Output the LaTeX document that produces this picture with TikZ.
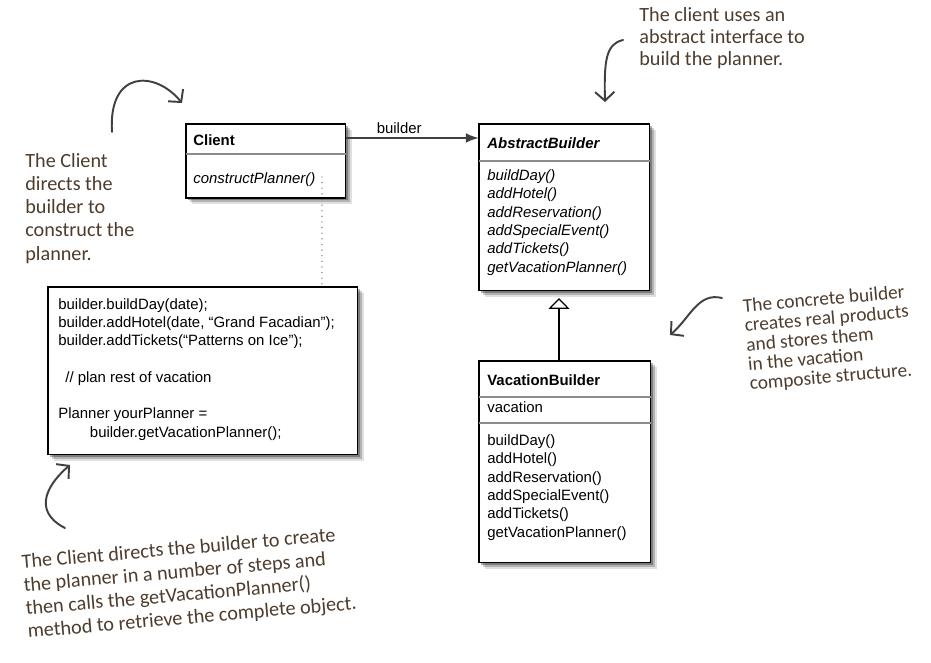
\documentclass[tikz,border=0pt]{standalone}
\usepackage{fontspec}
\setmainfont{Liberation Sans}
\newfontfamily\handfont{Carlito}
\usetikzlibrary{arrows.meta,shadows}
\definecolor{handink}{RGB}{78,60,45}
\definecolor{penline}{RGB}{64,64,64}

\begin{document}
\begin{tikzpicture}[x=0.02cm, y=-0.02cm,
  umlbox/.style={draw=black, line width=0.6pt, fill=white, anchor=north west,
    inner sep=0pt, outer sep=0pt,
    drop shadow={shadow xshift=3.6pt, shadow yshift=-3.6pt, fill=black, opacity=0.12},
    drop shadow={shadow xshift=2.4pt, shadow yshift=-2.4pt, fill=black, opacity=0.2},
    drop shadow={shadow xshift=1.2pt, shadow yshift=-1.2pt, fill=black, opacity=0.3}},
  divider/.style={draw=black!45, line width=0.6pt},
  boxtext/.style={anchor=base west, inner sep=0pt, align=left,
    font=\fontsize{8.5}{10.4}\selectfont #1},
  boxtext/.default={},
  assoc/.style={draw=penline, line width=1.1pt, -{Latex[length=7.5pt,width=5.5pt]}},
  generalize/.style={draw=black, line width=0.7pt, shorten >=4pt,
    -{Triangle[open, length=6.2pt, width=11.9pt, line width=0.7pt]}},
  dotline/.style={draw=black!60, line width=0.8pt, line cap=round, dash pattern=on 0pt off 3.2pt},
  handnote/.style={anchor=base west, inner sep=0pt, align=left, text=handink,
    font=\handfont\fontsize{11.5}{#1}\selectfont},
  pencurve/.style={draw=penline, line width=1.1pt, line cap=round, line join=round,
    -{Straight Barb[length=5pt, width=11pt]}}
]
\path[use as bounding box, fill=white] (0,0) rectangle (931,663);

% Client
\draw (186,124) node (client) [umlbox, minimum width=3.2cm, minimum height=1.48cm] {};
\draw[divider] (186,154) -- (346,154);
\draw (193,145) node (clientname) [boxtext=\bfseries] {Client};
\draw (193,183) node (clientops) [boxtext=\itshape] {constructPlanner()};

% AbstractBuilder (multi-line nodes sit on their last baseline)
\draw (479,124) node (abs) [umlbox, minimum width=3.42cm, minimum height=3.34cm] {};
\draw[divider] (479,161) -- (650,161);
\draw (487,148) node (absname) [boxtext={\bfseries\itshape}] {AbstractBuilder};
\draw (487,272) node (absops) [boxtext=\itshape]
  {buildDay()\\ addHotel()\\ addReservation()\\ addSpecialEvent()\\ addTickets()\\ getVacationPlanner()};

% VacationBuilder
\draw (479,361) node (vb) [umlbox, minimum width=3.44cm, minimum height=4.04cm] {};
\draw[divider] (479,397) -- (651,397);
\draw[divider] (479,423) -- (651,423);
\draw (487,385) node (vbname) [boxtext=\bfseries] {VacationBuilder};
\draw (487,412) node (vbattr) [boxtext] {vacation};
\draw (487,537) node (vbops) [boxtext]
  {buildDay()\\ addHotel()\\ addReservation()\\ addSpecialEvent()\\ addTickets()\\ getVacationPlanner()};

% code of the client
\draw (48,287) node (code) [umlbox, minimum width=6.2cm, minimum height=3.36cm] {};
\draw (58,437) node (codetext) [boxtext]
  {builder.buildDay(date);\\ builder.addHotel(date, “Grand Facadian”);\\
   builder.addTickets(“Patterns on Ice”);\\[10.4pt]
   \hspace*{4pt}// plan rest of vacation\\[10.4pt]
   Planner yourPlanner =\\ \hspace*{18pt}builder.getVacationPlanner();};

% connectors
\draw[assoc] ([yshift=-0.28cm]client.north east) -- ([yshift=-0.28cm]abs.north west)
  node [pos=0.4, above=2pt, inner sep=0pt, font=\fontsize{8.5}{10.4}\selectfont] {builder};
\coordinate (genfoot) at ([xshift=-0.12cm]vb.north);
\draw[generalize] (genfoot) -- (genfoot |- abs.south);
\coordinate (clientnote) at ([xshift=-0.48cm, yshift=0.42cm]client.south east);
\draw[dotline] (clientnote) -- (clientnote |- code.north);

% handwritten notes
\draw (25,260) node (noteclient) [handnote=13.2pt]
  {The Client\\ directs the\\ builder to\\ construct the\\ planner.};
\draw (639,65) node (noteabs) [handnote=12.3pt]
  {The client uses an\\ abstract interface to\\ build the planner.};
\draw (750,390) node (notevb) [handnote=11.1pt, rotate=5, font=\handfont\fontsize{11}{11.1}\selectfont]
  {The concrete builder\\ creates real products\\ and stores them\\ in the vacation\\ composite structure.};
\draw (28,638) node (notecode) [handnote=13.2pt, rotate=5]
  {The Client directs the builder to create\\ the planner in a number of steps and\\
   then calls the getVacationPlanner()\\ method to retrieve the complete object.};

\coordinate (penA) at (112,132);
\coordinate (tipA) at (182,103);
\draw[pencurve] (penA) .. controls (108,70) and (155,70) .. (tipA);
\coordinate (penB) at (623,40);
\coordinate (tipB) at (605,102);
\draw[pencurve] (penB) .. controls (606,44) and (604,60) .. (tipB);
\coordinate (penC) at (722,298);
\coordinate (tipC) at (670,335);
\draw[pencurve] (penC) .. controls (698,292) and (690,318) .. (tipC);
\coordinate (penD) at (65,528);
\coordinate (tipD) at (70,465);
\draw[pencurve] (penD) .. controls (30,510) and (50,482) .. (tipD);
\end{tikzpicture}
\end{document}
